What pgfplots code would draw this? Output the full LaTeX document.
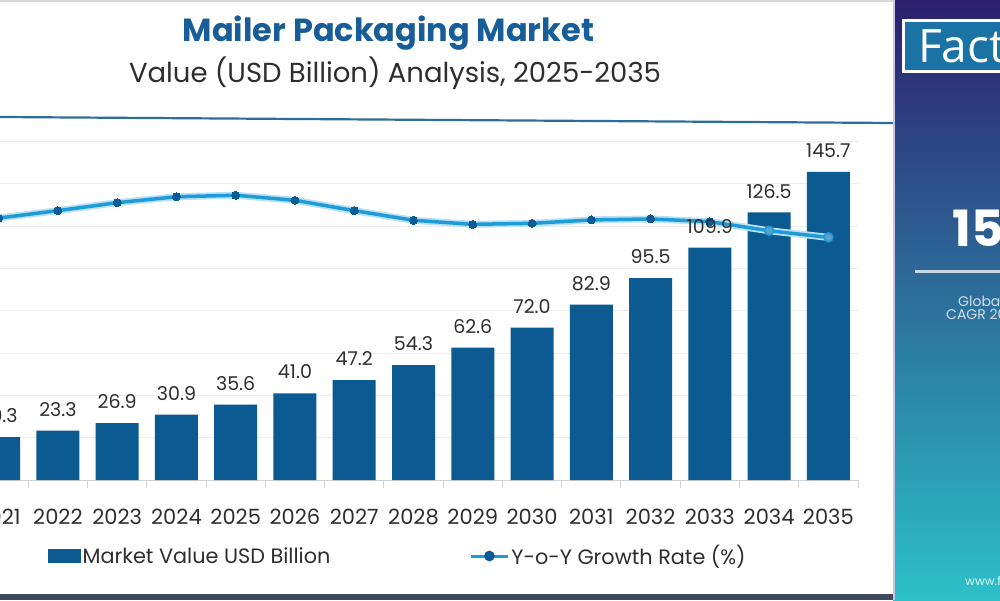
\documentclass[border=0pt]{standalone}
\usepackage{pgfplots}
\pgfplotsset{compat=1.18}
\usepackage{pgfplotstable}
\usepackage{fontspec}
\setmainfont{Poppins}
\newfontfamily\logofont{Open Sans}

\definecolor{barblue}{HTML}{0B5A92}
\definecolor{linecol}{HTML}{1E9CDA}
\definecolor{markcol}{HTML}{0B5C96}
\definecolor{titleblue}{HTML}{175E98}
\definecolor{textgray}{HTML}{2E2E2E}
\definecolor{gridgray}{HTML}{EDEDED}
\definecolor{axisgray}{HTML}{D3D3D3}
\definecolor{sepblue}{HTML}{2D6E98}
\definecolor{panelTop}{HTML}{2C1F6E}
\definecolor{panelMid}{HTML}{2E5C95}
\definecolor{panelBot}{HTML}{2CC0C8}
\definecolor{factblue}{HTML}{1B72A5}
\definecolor{bottomdark}{HTML}{3E4A5C}

% market value (USD billion) and year-on-year growth (%)
\pgfplotstableread{
idx val gr
0 20.3 15.48
1 23.3 15.92
2 26.9 16.39
3 30.9 16.74
4 35.6 16.83
5 41.0 16.53
6 47.2 15.92
7 54.3 15.35
8 62.6 15.11
9 72.0 15.17
10 82.9 15.37
11 95.5 15.43
12 109.9 15.27
13 126.5 14.73
14 145.7 14.34
}\market

\pgfplotsset{
  frame/.style={
    at={(0pt,0pt)}, anchor=south west,
    scale only axis, width=889pt, height=338.4pt,
    xmin=-0.5, xmax=14.5, clip=false,
  },
  valuelabels/.style={
    nodes near coords,
    every node near coord/.append style={font=\fontsize{19}{19}\selectfont, text=textgray,
      anchor=south, inner sep=0pt, yshift=14pt,
      /pgf/number format/fixed, /pgf/number format/fixed zerofill,
      /pgf/number format/precision=1, /pgf/number format/assume math mode=true},
  },
}

\begin{document}
\begin{tikzpicture}
% page area
\fill[white] (0pt,0pt) rectangle (1000pt,600pt);
\begin{pgfinterruptboundingbox}
\begin{scope}
\clip (0pt,0pt) rectangle (1000pt,600pt);

% heading
\node[anchor=base, text=titleblue, font=\bfseries\fontsize{32}{32}\selectfont, inner sep=0pt]
  at (388.5pt,558pt) {Mailer Packaging Market};
\node[anchor=base, text=textgray, font=\fontsize{27.5}{27.5}\selectfont, inner sep=0pt]
  at (395pt,517pt) {Value (USD Billion) Analysis, 2025-2035};
\draw[sepblue, line width=2.2pt] (0pt,483pt) -- (893pt,477pt);

\begin{scope}[shift={(-31pt,120pt)}]
% bars
\begin{axis}[
  frame, ymin=0, ymax=160,
  axis x line*=bottom, axis y line*=left,
  x axis line style={axisgray, line width=1pt},
  y axis line style={draw=none},
  xtick={0,...,14},
  xticklabels={2021,2022,2023,2024,2025,2026,2027,2028,2029,2030,2031,2032,2033,2034,2035},
  major x tick style={draw=none},
  minor xtick={0.5,1.5,...,14.5},
  minor x tick style={axisgray, line width=1pt},
  minor tick length=8pt,
  xtick align=outside,
  xticklabel style={font=\fontsize{21}{21}\selectfont, text=textgray, inner sep=0pt, anchor=north, yshift=-25pt},
  ytick={20,40,...,160},
  yticklabel={},
  ytick style={draw=none},
  ymajorgrids,
  major grid style={gridgray, line width=1pt},
  ybar, bar width=43pt,
]
\addplot[fill=barblue, draw=none] table[x=idx, y=val] {\market};
\end{axis}

% growth line
\begin{axis}[
  frame, ymin=0, ymax=20, hide axis,
  legend columns=2,
  legend cell align=left,
  legend style={draw=none, fill=none, inner sep=0pt, at={(0.0889,-0.2246)}, anchor=west,
    font=\fontsize{20.8}{20.8}\selectfont, text=textgray,
    /tikz/every even column/.append style={column sep=137pt}},
]
\addlegendimage{legend image code/.code={\fill[barblue] (0pt,-6.5pt) rectangle (32pt,6.5pt);}}
\addlegendentry{Market Value USD Billion}
\addplot[linecol!30, line width=7pt, forget plot] table[x=idx, y=gr] {\market};
\addplot[linecol, line width=3.5pt, mark=*, mark size=4pt, mark indices={1,...,13},
  mark options={fill=markcol, draw=markcol, line width=0pt},
  legend image code/.code={\draw[linecol, line width=3pt] (0pt,0pt) -- (37pt,0pt);
    \fill[markcol] (18.5pt,0pt) circle (3.5pt);}]
  table[x=idx, y=gr] {\market};
\addlegendentry{Y-o-Y Growth Rate (\%)}
\addplot[only marks, mark=*, mark size=4.5pt, forget plot,
  mark options={fill=linecol!45!barblue!70!white, draw=linecol, line width=1.5pt}]
  table[x=idx, y=gr, skip coords between index={0}{13}] {\market};
\end{axis}

% value labels on top of the line
\begin{axis}[frame, ymin=0, ymax=160, hide axis, ybar, bar width=43pt, valuelabels]
\addplot[draw=none, fill=none] table[x=idx, y=val] {\market};
\end{axis}
\end{scope}

% frame strips
\fill[gray!30] (0pt,597.5pt) rectangle (893pt,600pt);
\fill[bottomdark] (0pt,0pt) rectangle (893pt,6.5pt);

% side panel
\shade[top color=panelTop, middle color=panelMid, bottom color=panelBot] (893pt,0pt) rectangle (1000pt,600pt);
\draw[white!75!panelTop, line width=1.5pt] (893.75pt,0pt) -- (893.75pt,600pt);
\draw[white, line width=3pt, fill=factblue] (903pt,579pt) rectangle (1015pt,528pt);
\node[anchor=base west, text=white, font=\logofont\fontsize{46}{46}\selectfont, inner sep=0pt]
  at (918pt,537pt) {Fact.MR};
\node[anchor=base west, text=white, font=\bfseries\fontsize{50}{50}\selectfont, inner sep=0pt]
  at (952pt,353pt) {15.1\%};
\draw[white!75!panelMid, line width=3pt] (915pt,328pt) -- (1000pt,328pt);
\node[anchor=base west, text=white!80!panelMid, font=\fontsize{14}{14}\selectfont, inner sep=0pt]
  at (958pt,293pt) {Global Market};
\node[anchor=base west, text=white!80!panelMid, font=\fontsize{14}{14}\selectfont, inner sep=0pt]
  at (946pt,280pt) {CAGR 2025-2035};
\node[anchor=base west, text=white!85!panelBot, font=\fontsize{12}{12}\selectfont, inner sep=0pt]
  at (965pt,15pt) {www.factmr.com};
\end{scope}
\end{pgfinterruptboundingbox}
\end{tikzpicture}
\end{document}
